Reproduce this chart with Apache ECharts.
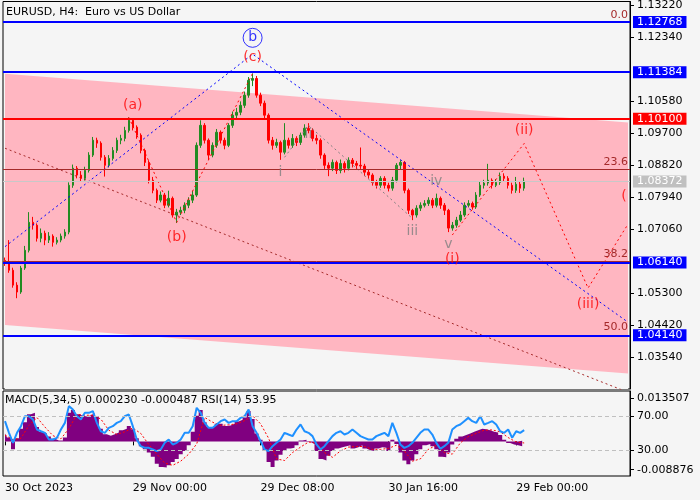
<!DOCTYPE html>
<html>
<head>
<meta charset="utf-8">
<title>EURUSD, H4</title>
<script src="https://cdn.jsdelivr.net/npm/echarts@6/dist/echarts.min.js"></script>
<style>
  html, body { margin: 0; padding: 0; background: #f5f5f5; }
  #chart { width: 700px; height: 500px; }
</style>
</head>
<body>
<div id="chart"></div>
<script>
// one slot on the x axis = about 4 H4 bars
const slotCount = 157;
const dateSlots = [0, 32, 64, 96, 128];
const dateLabels = ['30 Oct 2023', '29 Nov 00:00', '29 Dec 08:00', '30 Jan 16:00', '29 Feb 00:00'];
const priceTicks = [1.1322, 1.1234, 1.1058, 1.0970, 1.0882, 1.0794, 1.0706, 1.0530, 1.0442, 1.0354];

const firstOpen = 1.0620;
const closes = [
  1.0615, 1.0593, 1.0552, 1.0533, 1.0599, 1.0648, 1.0725, 1.0717, 1.0681, 1.0695,
  1.0676, 1.0687, 1.0670, 1.0676, 1.0687, 1.0698, 1.0827, 1.0874, 1.0855, 1.0846,
  1.0868, 1.0910, 1.0951, 1.0943, 1.0904, 1.0882, 1.0901, 1.0923, 1.0951, 1.0956,
  1.0978, 1.1006, 1.0987, 1.0965, 1.0923, 1.0890, 1.0841, 1.0813, 1.0786, 1.0800,
  1.0772, 1.0791, 1.0745, 1.0753, 1.0758, 1.0772, 1.0786, 1.0800, 1.0937, 1.0992,
  1.0951, 1.0910, 1.0937, 1.0973, 1.0951, 1.0937, 1.0992, 1.1020, 1.1028, 1.1047,
  1.1075, 1.1116, 1.1121, 1.1075, 1.1053, 1.1020, 1.0951, 1.0937, 1.0945, 1.0918,
  1.0951, 1.0937, 1.0956, 1.0945, 1.0965, 1.0984, 1.0978, 1.0956, 1.0951, 1.0910,
  1.0882, 1.0874, 1.0890, 1.0868, 1.0887, 1.0874, 1.0896, 1.0887, 1.0882, 1.0880,
  1.0863, 1.0855, 1.0835, 1.0827, 1.0846, 1.0827, 1.0819, 1.0841, 1.0882, 1.0890,
  1.0813, 1.0758, 1.0745, 1.0764, 1.0772, 1.0777, 1.0786, 1.0772, 1.0791, 1.0772,
  1.0758, 1.0709, 1.0717, 1.0731, 1.0745, 1.0772, 1.0777, 1.0767, 1.0800, 1.0827,
  1.0833, 1.0841, 1.0827, 1.0835, 1.0852, 1.0846, 1.0827, 1.0813, 1.0830, 1.0819,
  1.0838
];
const highs = [
  1.0628, 1.0676, 1.0600, 1.0560, 1.0605, 1.0660, 1.0753, 1.0740, 1.0722, 1.0708,
  1.0702, 1.0698, 1.0692, 1.0684, 1.0694, 1.0706, 1.0835, 1.0884, 1.0880, 1.0866,
  1.0878, 1.0918, 1.0960, 1.0958, 1.0948, 1.0910, 1.0910, 1.0932, 1.0958, 1.0966,
  1.0988, 1.1014, 1.1010, 1.0992, 1.0970, 1.0928, 1.0896, 1.0850, 1.0818, 1.0810,
  1.0806, 1.0812, 1.0796, 1.0762, 1.0768, 1.0780, 1.0794, 1.0812, 1.0945, 1.1006,
  1.0998, 1.0956, 1.0945, 1.0982, 1.0978, 1.0958, 1.0998, 1.1030, 1.1040, 1.1058,
  1.1085, 1.1125, 1.1135, 1.1128, 1.1082, 1.1060, 1.1025, 1.0960, 1.0955, 1.0950,
  1.0998, 1.0958, 1.0968, 1.0962, 1.0972, 1.0995, 1.0998, 1.0984, 1.0966, 1.0956,
  1.0915, 1.0890, 1.0898, 1.0895, 1.0898, 1.0893, 1.0904, 1.0902, 1.0894, 1.0931,
  1.0886, 1.0870, 1.0860, 1.0842, 1.0852, 1.0852, 1.0834, 1.0850, 1.0888, 1.0896,
  1.0894, 1.0818, 1.0762, 1.0772, 1.0780, 1.0786, 1.0794, 1.0792, 1.0804, 1.0796,
  1.0778, 1.0762, 1.0726, 1.0740, 1.0756, 1.0780, 1.0786, 1.0782, 1.0808, 1.0836,
  1.0842, 1.0886, 1.0846, 1.0844, 1.0862, 1.0860, 1.0852, 1.0834, 1.0850, 1.0838,
  1.0848
];
const lows = [
  1.0605, 1.0586, 1.0545, 1.0516, 1.0528, 1.0594, 1.0642, 1.0705, 1.0672, 1.0670,
  1.0662, 1.0668, 1.0658, 1.0664, 1.0670, 1.0680, 1.0692, 1.0820, 1.0846, 1.0836,
  1.0840, 1.0862, 1.0905, 1.0930, 1.0895, 1.0851, 1.0876, 1.0895, 1.0916, 1.0940,
  1.0948, 1.0972, 1.0978, 1.0955, 1.0915, 1.0880, 1.0832, 1.0805, 1.0778, 1.0780,
  1.0764, 1.0766, 1.0738, 1.0723, 1.0745, 1.0750, 1.0764, 1.0778, 1.0795, 1.0930,
  1.0942, 1.0896, 1.0904, 1.0930, 1.0942, 1.0926, 1.0932, 1.0985, 1.1010, 1.1020,
  1.1040, 1.1068, 1.1100, 1.1068, 1.1045, 1.1012, 1.0942, 1.0925, 1.0930, 1.0897,
  1.0912, 1.0928, 1.0930, 1.0935, 1.0938, 1.0958, 1.0970, 1.0948, 1.0940, 1.0900,
  1.0872, 1.0852, 1.0866, 1.0858, 1.0860, 1.0862, 1.0868, 1.0876, 1.0872, 1.0872,
  1.0852, 1.0845, 1.0826, 1.0818, 1.0820, 1.0818, 1.0810, 1.0812, 1.0835, 1.0870,
  1.0805, 1.0748, 1.0731, 1.0738, 1.0756, 1.0766, 1.0770, 1.0764, 1.0766, 1.0762,
  1.0745, 1.0698, 1.0702, 1.0710, 1.0726, 1.0740, 1.0766, 1.0760, 1.0762, 1.0795,
  1.0818, 1.0826, 1.0818, 1.0822, 1.0828, 1.0836, 1.0818, 1.0804, 1.0806, 1.0806,
  1.0812
];

// horizontal levels and fibo levels
const levelValues = [1.12768, 1.11384, 1.10100, 1.08372, 1.06140, 1.04140];
const fibValues = [1.12760, 1.0870, 1.0618, 1.0415];
const fibLabels = ['0.0', '23.6', '38.2', '50.0'];

// [slot, price] points
const channelUpper = [[0, 1.1134], [156, 1.1000]];
const channelLower = [[0, 1.0442], [156, 1.0309]];
const brownLine = [[0, 1.0929], [156, 1.0257]];
const blueWave = [[0, 1.0658], [62, 1.1188], [156, 1.0450]];
const redWaveA = [[31, 1.1014], [43, 1.0725], [62, 1.1135]];
const redWaveB = [[112, 1.0690], [130, 1.0942], [146, 1.0544], [156, 1.0720]];
const grayWave = [[70, 1.0904], [76, 1.0992], [102, 1.0736]];

const redLabels = [[32, 1.1047, '(a)'], [43, 1.0684, '(b)'], [62, 1.1178, '(c)'], [112, 1.0624, '(i)'],
  [130, 1.0978, '(ii)'], [146, 1.0498, '(iii)'], [155, 1.0797, '(']];
const grayLabels = [[69, 1.0863, 'i'], [76, 1.0968, 'ii'], [102, 1.0699, 'iii'], [108, 1.0839, 'iv'], [111, 1.0665, 'v']];
const circleLabel = [[62, 1.1233, 'b']];

// indicator window
const macd = [
  0.0025, 0.0012, -0.0025, 0.0010, 0.0040, 0.0060, 0.0085, 0.0090, 0.0045, 0.0030,
  0.0025, 0.0015, 0.0008, 0.0003, 0.0003, 0.0012, 0.0090, 0.0098, 0.0085, 0.0080,
  0.0078, 0.0082, 0.0088, 0.0078, 0.0040, 0.0022, 0.0018, 0.0022, 0.0028, 0.0035,
  0.0040, 0.0048, 0.0038, 0.0010, -0.0015, -0.0025, -0.0035, -0.0048, -0.0070, -0.0080,
  -0.0082, -0.0075, -0.0065, -0.0055, -0.0040, -0.0030, -0.0012, 0.0030, 0.0080, 0.0098,
  0.0060, 0.0045, 0.0045, 0.0055, 0.0055, 0.0048, 0.0050, 0.0055, 0.0062, 0.0068,
  0.0075, 0.0095, 0.0070, 0.0025, 0.0005, -0.0030, -0.0065, -0.0080, -0.0060, -0.0042,
  -0.0030, -0.0022, -0.0020, -0.0012, 0.0003, 0.0005, -0.0002, -0.0008, -0.0030, -0.0055,
  -0.0060, -0.0045, -0.0030, -0.0022, -0.0018, -0.0015, -0.0012, -0.0022, -0.0018, -0.0012,
  -0.0022, -0.0028, -0.0030, -0.0022, -0.0018, -0.0020, -0.0030, 0.0005, -0.0008, -0.0035,
  -0.0060, -0.0072, -0.0060, -0.0040, -0.0025, -0.0012, -0.0008, -0.0015, -0.0025, -0.0048,
  -0.0050, -0.0035, -0.0010, 0.0008, 0.0015, 0.0020, 0.0025, 0.0030, 0.0035, 0.0040,
  0.0038, 0.0035, 0.0030, 0.0028, 0.0020, 0.0005, -0.0005, -0.0010, -0.0012, -0.0015,
  0.0002
];
const signal = [[0, 0.0020], [2, 0.0005], [4, 0.0010], [6, 0.0050], [8, 0.0075], [10, 0.0045], [12, 0.0018],
  [14, 0.0008], [16, 0.0040], [18, 0.0085], [20, 0.0082], [22, 0.0082], [24, 0.0070], [26, 0.0035],
  [28, 0.0022], [30, 0.0030], [32, 0.0042], [34, 0.0025], [36, -0.0010], [38, -0.0040], [40, -0.0068],
  [42, -0.0075], [44, -0.0062], [46, -0.0040], [48, -0.0008], [50, 0.0075], [52, 0.0060], [54, 0.0050],
  [56, 0.0052], [58, 0.0055], [60, 0.0065], [62, 0.0080], [64, 0.0055], [66, 0.0010], [68, -0.0055],
  [70, -0.0060], [72, -0.0035], [74, -0.0018], [76, -0.0002], [78, -0.0005], [80, -0.0035], [82, -0.0050],
  [84, -0.0030], [86, -0.0018], [88, -0.0016], [90, -0.0016], [92, -0.0025], [94, -0.0025], [96, -0.0022],
  [98, -0.0012], [100, -0.0030], [102, -0.0062], [104, -0.0055], [106, -0.0025], [108, -0.0012],
  [110, -0.0035], [112, -0.0040], [114, -0.0005], [116, 0.0015], [118, 0.0025], [120, 0.0035],
  [122, 0.0036], [124, 0.0030], [126, 0.0012], [128, -0.0002], [130, -0.0005]];
const rsi = [
  64.5, 50.8, 39.0, 50.8, 58.6, 70.4, 70.4, 66.5, 54.7, 52.7,
  50.8, 42.9, 42.9, 44.9, 54.7, 62.5, 82.2, 78.2, 70.4, 66.5,
  74.3, 74.3, 76.3, 62.5, 52.7, 50.8, 56.7, 58.6, 62.5, 64.5,
  70.4, 72.4, 58.6, 42.9, 35.1, 33.1, 33.1, 31.2, 29.2, 31.2,
  39.0, 42.9, 37.1, 39.0, 42.9, 50.8, 50.8, 58.6, 80.2, 74.3,
  62.5, 56.7, 56.7, 60.6, 64.5, 66.5, 62.5, 64.5, 64.5, 68.4,
  70.4, 78.2, 58.6, 50.8, 41.0, 31.2, 29.2, 35.1, 39.0, 42.9,
  50.8, 48.8, 46.9, 54.7, 60.6, 52.7, 50.8, 46.9, 37.1, 31.2,
  35.1, 41.0, 46.9, 50.8, 52.7, 48.8, 50.8, 54.7, 50.8, 46.9,
  44.9, 42.9, 42.9, 46.9, 48.8, 50.8, 46.9, 62.5, 50.8, 37.1,
  33.1, 35.1, 39.0, 44.9, 50.8, 54.7, 54.7, 48.8, 39.0, 32.0,
  35.1, 39.0, 54.7, 58.6, 60.6, 64.5, 68.4, 64.5, 62.5, 70.4,
  60.6, 62.5, 64.5, 60.6, 52.7, 50.8, 54.7, 44.9, 52.7, 50.8,
  54.0
];
const macdTicks = [0.013507, -0.008876];
const rsiTicks = [70, 30];

const font = 'DejaVu Sans';
const categories = Array.from({ length: slotCount }, (_, i) => {
  const k = dateSlots.indexOf(i);
  return k >= 0 ? dateLabels[k] : String(i);
});
const ohlc = closes.map((c, i) => [i === 0 ? firstOpen : closes[i - 1], c, lows[i], highs[i]]);

const levelStyle = [
  { line: '#0000ff', bg: '#0000ff', w: 2 },
  { line: '#0000ff', bg: '#0000ff', w: 2 },
  { line: '#ff0000', bg: '#ff0000', w: 2 },
  { line: '#c8c8c8', bg: '#c0c0c0', w: 1 },
  { line: '#0000ff', bg: '#0000ff', w: 2 },
  { line: '#0000ff', bg: '#0000ff', w: 2 }
];

const dotted = (name, data, color) => ({
  name, type: 'line', xAxisIndex: 0, yAxisIndex: 0, data, symbol: 'none', z: 4,
  lineStyle: { color, width: 1, type: [2, 3] }
});
const textMarks = (name, data, color) => ({
  name, type: 'scatter', xAxisIndex: 0, yAxisIndex: 0, data, symbolSize: 0, z: 6,
  label: { show: true, position: 'inside', formatter: p => p.data[2], color, fontSize: 14, fontFamily: font }
});

const chart = echarts.init(document.getElementById('chart'));
chart.setOption({
  animation: false,
  backgroundColor: '#f5f5f5',
  textStyle: { fontFamily: font },
  title: [
    { text: 'EURUSD, H4:  Euro vs US Dollar', left: 6, top: 7, padding: 0,
      textStyle: { fontSize: 11, fontWeight: 'normal', color: '#000', fontFamily: font } },
    { text: 'MACD(5,34,5) 0.000230 -0.000487 RSI(14) 53.95', left: 5, top: 395, padding: 0, z: 10,
      textStyle: { fontSize: 11, fontWeight: 'normal', color: '#000', fontFamily: font } }
  ],
  grid: [
    { left: 3, top: 1, width: 627, height: 388, show: true, borderColor: '#000', borderWidth: 1 },
    { left: 3, top: 391, width: 627, height: 85, show: true, borderColor: '#000', borderWidth: 1 }
  ],
  xAxis: [
    { type: 'category', gridIndex: 0, data: categories, boundaryGap: true,
      axisLine: { show: false }, axisTick: { show: false }, axisLabel: { show: false } },
    { type: 'category', gridIndex: 1, data: categories, boundaryGap: true,
      axisLine: { show: false },
      axisTick: { show: true, alignWithLabel: true, length: 4, interval: i => dateSlots.includes(i),
        lineStyle: { color: '#000' } },
      axisLabel: { show: true, interval: i => dateSlots.includes(i), align: 'left', color: '#000',
        fontSize: 11, margin: 7, fontFamily: font } }
  ],
  yAxis: [
    { type: 'value', gridIndex: 0, position: 'right', min: 1.0266, max: 1.1333,
      axisLine: { show: true, lineStyle: { color: '#000' } },
      axisTick: { show: true, length: 4, customValues: priceTicks, lineStyle: { color: '#000' } },
      axisLabel: { customValues: priceTicks, formatter: v => v.toFixed(5), color: '#000', fontSize: 11,
        margin: 7, fontFamily: font },
      splitLine: { show: false } },
    { type: 'value', gridIndex: 1, position: 'right', min: -0.010851, max: 0.015795,
      axisLine: { show: true, lineStyle: { color: '#000' } },
      axisTick: { show: true, length: 4, customValues: macdTicks, lineStyle: { color: '#000' } },
      axisLabel: { customValues: macdTicks, formatter: v => v.toFixed(6), color: '#000', fontSize: 11,
        margin: 7, fontFamily: font },
      splitLine: { show: false } },
    { type: 'value', gridIndex: 1, position: 'right', min: 0, max: 100,
      axisLine: { show: false },
      axisTick: { show: true, length: 4, customValues: rsiTicks, lineStyle: { color: '#000' } },
      axisLabel: { customValues: rsiTicks, formatter: v => v.toFixed(2), color: '#000', fontSize: 11,
        margin: 7, fontFamily: font },
      splitLine: { show: false } }
  ],
  series: [
    // pink channel: fill under the upper edge, then paint background under the lower edge
    { name: 'channelUpper', type: 'line', xAxisIndex: 0, yAxisIndex: 0, data: channelUpper, symbol: 'none', z: 0,
      lineStyle: { width: 0 }, areaStyle: { color: '#ffb6c1', opacity: 1, origin: 'start' } },
    { name: 'channelLower', type: 'line', xAxisIndex: 0, yAxisIndex: 0, data: channelLower, symbol: 'none', z: 0,
      lineStyle: { width: 0 }, areaStyle: { color: '#f5f5f5', opacity: 1, origin: 'start' } },
    { name: 'fibo', type: 'line', xAxisIndex: 0, yAxisIndex: 0, data: [], z: 1,
      markLine: {
        silent: true, symbol: 'none', animation: false, precision: 5,
        data: fibValues.map((v, i) => ({
          yAxis: v,
          lineStyle: { color: '#a52a2a', width: 1, type: 'solid' },
          label: { show: true, position: 'insideEndTop', distance: [2, 2], formatter: fibLabels[i],
            color: '#a52a2a', fontSize: 11, fontFamily: font }
        }))
      } },
    { name: 'levels', type: 'line', xAxisIndex: 0, yAxisIndex: 0, data: [], z: 1,
      markLine: {
        silent: true, symbol: 'none', animation: false, precision: 5,
        data: levelValues.map((v, i) => ({
          yAxis: v,
          lineStyle: { color: levelStyle[i].line, width: levelStyle[i].w, type: 'solid' },
          label: { show: true, position: 'end', distance: 3, formatter: v.toFixed(5), color: '#fff',
            backgroundColor: levelStyle[i].bg, padding: [1, 4, 0, 4], fontSize: 11, fontFamily: font }
        }))
      } },
    { name: 'EURUSD', type: 'candlestick', xAxisIndex: 0, yAxisIndex: 0, data: ohlc, barWidth: 2, z: 3,
      itemStyle: { color: '#228b22', color0: '#ff0000', borderColor: '#228b22', borderColor0: '#ff0000', borderWidth: 1 } },
    Object.assign(dotted('channelLine', brownLine, '#a52a2a'), { z: 2 }),
    dotted('waveB', blueWave, '#0000ff'),
    dotted('waveABC', redWaveA, '#ff0000'),
    dotted('waveI', redWaveB, '#ff0000'),
    dotted('subwaves', grayWave, '#808080'),
    textMarks('redLabels', redLabels, '#ff0000'),
    textMarks('grayLabels', grayLabels, '#808080'),
    { name: 'circleB', type: 'scatter', xAxisIndex: 0, yAxisIndex: 0, data: circleLabel, symbol: 'circle',
      symbolSize: 19, z: 6,
      itemStyle: { color: 'rgba(0,0,0,0)', borderColor: '#0000ff', borderWidth: 1 },
      label: { show: true, position: 'inside', formatter: p => p.data[2], color: '#0000ff', fontSize: 14, fontFamily: font } },

    // MACD / RSI window (histogram drawn as a stepped filled area so it stays solid)
    { name: 'MACD', type: 'line', xAxisIndex: 1, yAxisIndex: 1, data: macd, step: 'middle', symbol: 'none', z: 2,
      lineStyle: { width: 0 }, areaStyle: { color: '#800080', opacity: 1 } },
    { name: 'Signal', type: 'line', xAxisIndex: 1, yAxisIndex: 1, data: signal, symbol: 'none', z: 3,
      lineStyle: { color: '#ff0000', width: 1, type: [2, 2] } },
    { name: 'RSI', type: 'line', xAxisIndex: 1, yAxisIndex: 2, data: rsi, symbol: 'none', z: 4,
      lineStyle: { color: '#1e90ff', width: 2 },
      markLine: {
        silent: true, symbol: 'none', animation: false, label: { show: false },
        lineStyle: { color: '#c0c0c0', width: 1, type: [4, 3] },
        data: rsiTicks.map(v => ({ yAxis: v }))
      } }
  ]
});
</script>
</body>
</html>
